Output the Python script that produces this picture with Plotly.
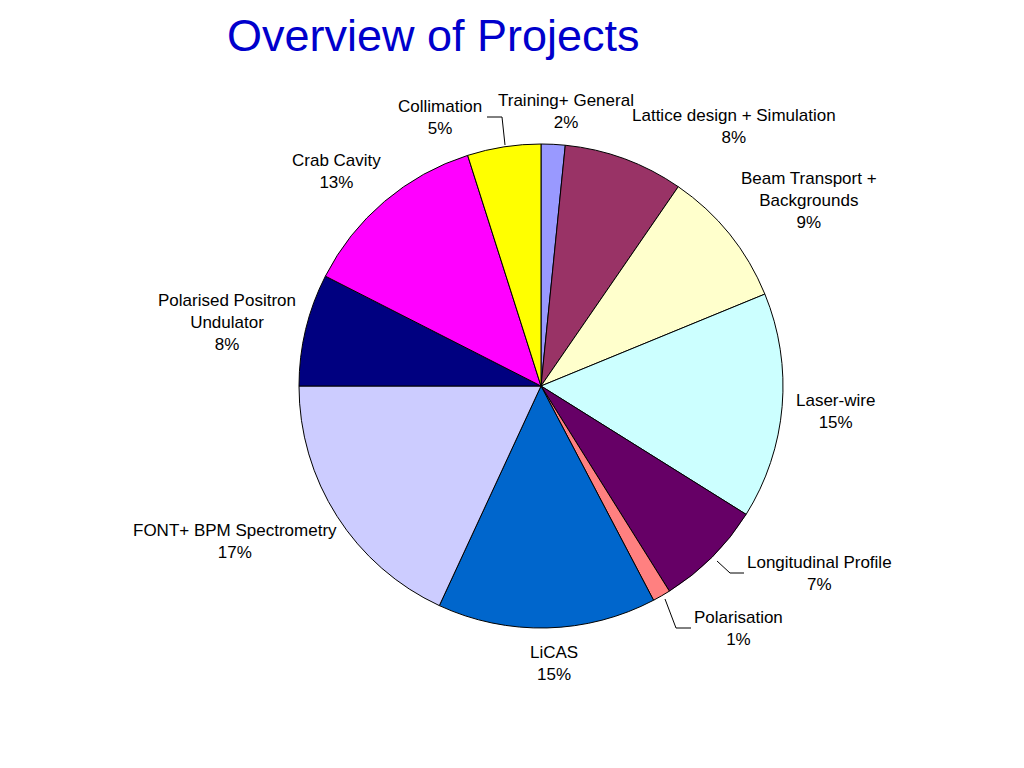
import plotly.graph_objects as go

# ---- data (clockwise from 12 o'clock) ----
categories = [
    "Training+ General",
    "Lattice design + Simulation",
    "Beam Transport + Backgrounds",
    "Laser-wire",
    "Longitudinal Profile",
    "Polarisation",
    "LiCAS",
    "FONT+ BPM Spectrometry",
    "Polarised Positron Undulator",
    "Crab Cavity",
    "Collimation",
]
values = [1.6, 8.0, 9.2, 15.1, 7.2, 1.2, 14.6, 18.1, 7.5, 12.6, 4.9]
pct_labels = ["2%", "8%", "9%", "15%", "7%", "1%", "15%", "17%", "8%", "13%", "5%"]
label_text = [
    "Training+ General",
    "Lattice design + Simulation",
    "Beam Transport +<br>Backgrounds",
    "Laser-wire",
    "Longitudinal Profile",
    "Polarisation",
    "LiCAS",
    "FONT+ BPM Spectrometry",
    "Polarised Positron<br>Undulator",
    "Crab Cavity",
    "Collimation",
]

# ---- styles / layout ----
colors = ["#9999FF", "#993366", "#FFFFCC", "#CCFFFF", "#660066", "#FF8080",
          "#0066CC", "#CCCCFF", "#000080", "#FF00FF", "#FFFF00"]
W, H = 1024, 768
OFF = 8  # page body margin
FONT = "Liberation Sans, Arial, sans-serif"

# label block centres in page pixels
label_pos = [(566, 112), (734, 126), (809, 201), (835, 411), (819, 573),
             (738, 628), (554, 663), (235, 541), (227, 322), (336, 172), (440, 117)]
# leader lines in page pixels
leaders = [
    [(487, 117), (502, 117), (505, 145)],
    [(717, 561), (730, 573), (744, 573)],
    [(665, 599), (676, 628), (691, 628)],
]


def px(x, y):
    return (x - OFF) / W, 1 - (y - OFF) / H


cx, cy, r = 541 - OFF, 386 - OFF, 242
fig = go.Figure(go.Pie(
    labels=categories,
    values=values,
    sort=False,
    direction="clockwise",
    rotation=0,
    marker=dict(colors=colors, line=dict(color="black", width=1)),
    textinfo="none",
    hoverinfo="label+percent",
    showlegend=False,
    domain=dict(x=[(cx - r) / W, (cx + r) / W], y=[1 - (cy + r) / H, 1 - (cy - r) / H]),
))

annotations = []
for txt, pct, (x, y) in zip(label_text, pct_labels, label_pos):
    ax, ay = px(x, y)
    annotations.append(dict(
        x=ax, y=ay, xref="paper", yref="paper", xanchor="center", yanchor="middle",
        text=f"{txt}<br>{pct}", showarrow=False, align="center",
        font=dict(family=FONT, size=17, color="black"),
    ))

tx, _ = px(433, 0)
annotations.append(dict(
    x=tx, y=1, xref="paper", yref="paper", xanchor="center", yanchor="top",
    text="Overview of Projects", showarrow=False,
    font=dict(family=FONT, size=45, color="#0000CC"),
))

shapes = []
for pts in leaders:
    path = "M " + " L ".join(f"{px(x, y)[0]},{px(x, y)[1]}" for x, y in pts)
    shapes.append(dict(type="path", path=path, xref="paper", yref="paper",
                       line=dict(color="black", width=1)))

fig.update_layout(
    width=W, height=H,
    margin=dict(l=0, r=0, t=0, b=0),
    paper_bgcolor="white",
    plot_bgcolor="white",
    annotations=annotations,
    shapes=shapes,
    font=dict(family=FONT),
)

fig.write_html("out.html")
